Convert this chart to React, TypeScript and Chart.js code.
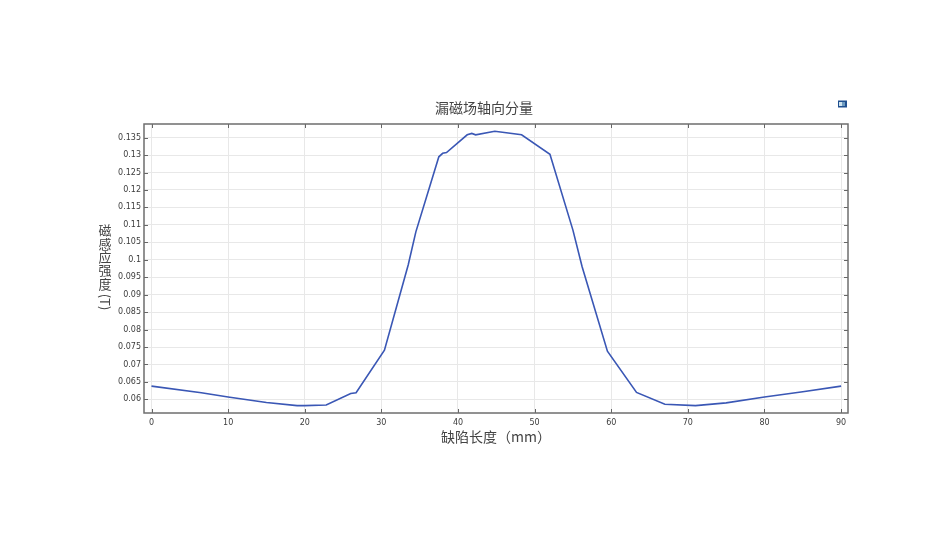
import React, { useEffect, useRef } from "react";
import { Chart, registerables } from "chart.js";

Chart.register(...registerables);

const FONT = "'DejaVu Sans', sans-serif";
const CJK = "'Noto Sans CJK SC', sans-serif";

const xValues = [0, 6.5, 10, 15, 19, 20, 22.8, 26, 26.7, 30.4, 33.5, 34.5, 37.5, 38, 38.5, 41.2, 41.8, 42.3, 44.8, 48.3, 52, 55, 56.2, 59.5, 63.3, 67, 71, 75, 80, 85, 90];
const yValues = [0.0638, 0.0619, 0.0607, 0.0591, 0.0582, 0.0582, 0.0584, 0.0617, 0.0619, 0.0741, 0.0985, 0.108, 0.1295, 0.1305, 0.1307, 0.1358, 0.1362, 0.1358, 0.1368, 0.1358, 0.1302, 0.1085, 0.098, 0.0738, 0.062, 0.0586, 0.0582, 0.059, 0.0607, 0.0622, 0.0638];
const xTicks = [0, 10, 20, 30, 40, 50, 60, 70, 80, 90];
const yTicks = [0.06, 0.065, 0.07, 0.075, 0.08, 0.085, 0.09, 0.095, 0.1, 0.105, 0.11, 0.115, 0.12, 0.125, 0.13, 0.135];
const chartTitle = "漏磁场轴向分量";
const xTitle = "缺陷长度（mm）";
const yTitleChars = ["磁", "感", "应", "强", "度"];
const yTitleUnit = "(T)";

const decorations = {
  id: "decorations",
  afterDraw(chart: any) {
    const { ctx, chartArea: a, scales } = chart;
    ctx.save();
    ctx.strokeStyle = "#666";
    ctx.lineWidth = 1;
    ctx.beginPath();
    for (const v of xTicks) {
      const x = Math.round(scales.x.getPixelForValue(v)) + 0.5;
      ctx.moveTo(x, a.top); ctx.lineTo(x, a.top + 4);
      ctx.moveTo(x, a.bottom); ctx.lineTo(x, a.bottom - 4);
    }
    for (const v of yTicks) {
      const y = Math.round(scales.y.getPixelForValue(v)) + 0.5;
      ctx.moveTo(a.left, y); ctx.lineTo(a.left + 4, y);
      ctx.moveTo(a.right, y); ctx.lineTo(a.right - 4, y);
    }
    ctx.stroke();
    ctx.strokeStyle = "#6e6e6e";
    ctx.lineWidth = 1.5;
    ctx.strokeRect(a.left, a.top, a.right - a.left, a.bottom - a.top);

    ctx.fillStyle = "#444";
    ctx.textAlign = "center";
    ctx.textBaseline = "middle";

    // chart title, centred a little left of the plot centre
    ctx.font = `14px ${CJK}`;
    ctx.fillText(chartTitle, 484, 108);

    // vertical axis title: upright stacked glyphs, the unit turned sideways
    ctx.font = `13px ${CJK}`;
    yTitleChars.forEach((c, i) => ctx.fillText(c, 105, 230.5 + i * 13.3));
    ctx.translate(105, 302);
    ctx.rotate(Math.PI / 2);
    ctx.fillText(yTitleUnit, 0, 0);
    ctx.setTransform(1, 0, 0, 1, 0, 0);

    // toolbar badge at the top right
    ctx.fillStyle = "#1f4f8f";
    ctx.fillRect(838, 100.5, 9, 7);
    ctx.fillStyle = "#cfe3ee";
    ctx.fillRect(839, 102, 3, 4);
    ctx.fillStyle = "#6f9cc0";
    ctx.fillRect(842, 102, 3, 4);
    ctx.restore();
  },
};

export default function App() {
  const ref = useRef<HTMLCanvasElement>(null);
  useEffect(() => {
    const chart = new Chart(ref.current!, {
      type: "line",
      data: {
        datasets: [{
          data: xValues.map((x, i) => ({ x, y: yValues[i] })),
          borderColor: "#3a57b5",
          borderWidth: 1.6,
          pointRadius: 0,
          tension: 0,
        }],
      },
      plugins: [decorations],
      options: {
        animation: false,
        responsive: false,
        layout: { padding: { left: 95, right: 102, top: 124, bottom: 82 } },
        plugins: {
          legend: { display: false },
          tooltip: { enabled: false },
          title: { display: false },
        },
        scales: {
          x: {
            type: "linear",
            min: -0.98,
            max: 90.9,
            afterBuildTicks: (s: any) => { s.ticks = xTicks.map((value) => ({ value })); },
            afterFit: (s: any) => { s.height = 39; },
            grid: { color: "#e8e8e8", drawTicks: false, lineWidth: 1 },
            border: { display: false },
            ticks: { color: "#3c3c3c", font: { family: FONT, size: 8 }, padding: 5, maxRotation: 0, autoSkip: false, callback: (v: any) => String(v) },
            title: { display: true, text: xTitle, color: "#444", font: { family: CJK, size: 14 }, padding: { top: 2, bottom: 7 } },
          },
          y: {
            type: "linear",
            min: 0.0561,
            max: 0.1389,
            afterBuildTicks: (s: any) => { s.ticks = yTicks.map((value) => ({ value })); },
            afterFit: (s: any) => { s.width = 49; },
            grid: { color: "#e8e8e8", drawTicks: false, lineWidth: 1 },
            border: { display: false },
            ticks: { color: "#3c3c3c", font: { family: FONT, size: 8 }, padding: 3, autoSkip: false, callback: (v: any) => String(Number(Number(v).toFixed(3))) },
          },
        },
      } as any,
    });
    return () => chart.destroy();
  }, []);
  return <canvas ref={ref} width={950} height={534} style={{ position: "fixed", left: 0, top: 0, width: 950, height: 534, filter: "blur(0.35px)" }} />;
}
